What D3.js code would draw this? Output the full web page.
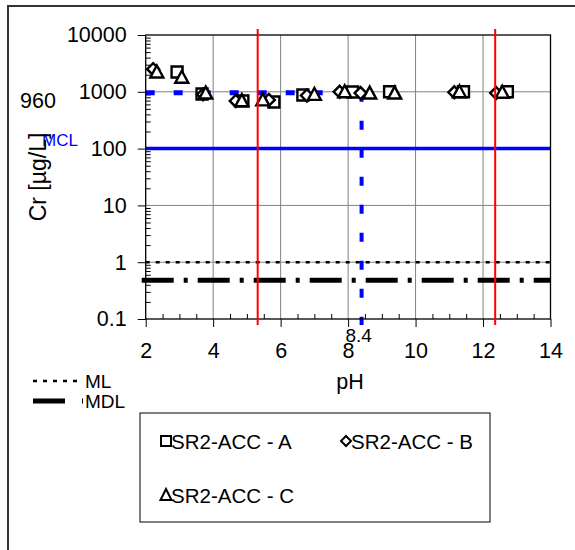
<!DOCTYPE html>
<html><head><meta charset="utf-8">
<script src="https://cdn.jsdelivr.net/npm/d3@7"></script>
<style>body{margin:0;background:#fff}svg{display:block}text{font-family:"Liberation Sans",Arial,sans-serif}</style>
</head><body>
<svg id="c" width="575" height="550"></svg>
<script>
// ---- data ----
const seriesNames = ["SR2-ACC - A", "SR2-ACC - B", "SR2-ACC - C"];
const phA = [2.93, 3.67, 4.88, 5.80, 6.66, 8.13, 9.23, 11.42, 12.72];
const crA = [2230, 915, 690, 660, 880, 990, 1000, 1000, 1000];
const phB = [2.22, 3.70, 4.67, 5.65, 6.78, 7.75, 8.37, 11.15, 12.39];
const crB = [2500, 900, 690, 720, 860, 1000, 950, 980, 950];
const phC = [2.33, 3.07, 3.78, 4.85, 5.47, 7.00, 7.90, 8.64, 9.38, 11.30, 12.57];
const crC = [2230, 1800, 950, 700, 720, 900, 1000, 950, 950, 1000, 980];
const xTicks = [2, 4, 6, 8, 10, 12, 14];
const yTicks = [0.1, 1, 10, 100, 1000, 10000];
const yTickLabels = ["0.1", "1", "10", "100", "1000", "10000"];
const MCL = 100, ML = 1, MDL = 0.48;
const crossVal = 960, crossPH = 8.4;
const redPH = [5.32, 12.36];

// ---- scales ----
const L = 145.7, R = 550.5, T = 35, B = 319;
const x = d3.scaleLinear().domain([2, 14]).range([L, R]);
const y = d3.scaleLog().domain([0.1, 10000]).range([B, T]);
const svg = d3.select("#c");
const FS = 21.5;

// frame
svg.append("path").attr("d", "M8,550V6H575").attr("fill", "none").attr("stroke", "#333").attr("stroke-width", 2);

// grid
const g = svg.append("g");
g.selectAll(".gx").data(xTicks.slice(1, -1)).join("line")
  .attr("x1", d => x(d)).attr("x2", d => x(d)).attr("y1", T).attr("y2", B)
  .attr("stroke", "#808080").attr("stroke-width", 1);
g.selectAll(".gy").data(yTicks.slice(1, -1)).join("line")
  .attr("x1", L).attr("x2", R).attr("y1", d => y(d)).attr("y2", d => y(d))
  .attr("stroke", "#808080").attr("stroke-width", 1);

// minor ticks
const yMinor = [];
for (let e = -1; e < 4; e++) for (let k = 2; k <= 9; k++) yMinor.push(k * Math.pow(10, e));
svg.append("g").attr("transform", `translate(${L},0)`)
  .call(d3.axisRight(y).tickValues(yMinor).tickSize(5).tickFormat(""))
  .call(a => a.select(".domain").remove())
  .call(a => a.selectAll("line").attr("stroke", "#000"));
const xMinor = d3.range(2.5, 14, 0.5).filter(v => v % 2 !== 0);
svg.append("g").attr("transform", `translate(0,${B})`)
  .call(d3.axisTop(x).tickValues(xMinor).tickSize(5).tickFormat(""))
  .call(a => a.select(".domain").remove())
  .call(a => a.selectAll("line").attr("stroke", "#000"));

// reference lines
svg.append("line").attr("x1", L).attr("x2", R).attr("y1", y(MCL)).attr("y2", y(MCL))
  .attr("stroke", "#0000ff").attr("stroke-width", 3.5);
svg.append("line").attr("x1", L).attr("x2", R).attr("y1", y(ML)).attr("y2", y(ML))
  .attr("stroke", "#000").attr("stroke-width", 2.5).attr("stroke-dasharray", "4,6");
svg.append("line").attr("x1", L - 4).attr("x2", R).attr("y1", y(MDL)).attr("y2", y(MDL))
  .attr("stroke", "#000").attr("stroke-width", 5).attr("stroke-dasharray", "32,10,4,10");
svg.append("line").attr("x1", L).attr("x2", x(crossPH)).attr("y1", y(crossVal)).attr("y2", y(crossVal))
  .attr("stroke", "#0000ff").attr("stroke-width", 5).attr("stroke-dasharray", "9,19");
svg.append("line").attr("x1", x(crossPH)).attr("x2", x(crossPH)).attr("y1", y(crossVal)).attr("y2", B + 6)
  .attr("stroke", "#0000ff").attr("stroke-width", 4).attr("stroke-dasharray", "9,19");

// plot border
svg.append("rect").attr("x", L).attr("y", T).attr("width", R - L).attr("height", B - T)
  .attr("fill", "none").attr("stroke", "#000").attr("stroke-width", 1.3);

// axes
svg.append("g").attr("transform", `translate(${L},0)`)
  .call(d3.axisLeft(y).tickValues(yTicks).tickSize(8).tickPadding(11).tickFormat((d, i) => yTickLabels[i]))
  .call(a => a.select(".domain").remove())
  .call(a => a.selectAll("text").attr("font-size", FS).attr("font-family", "Liberation Sans, Arial, sans-serif").attr("fill", "#000"))
  .call(a => a.selectAll("line").attr("stroke", "#000"));
svg.append("g").attr("transform", `translate(0,${B})`)
  .call(d3.axisBottom(x).tickValues(xTicks).tickSize(8).tickPadding(16).tickFormat(d3.format("d")))
  .call(a => a.select(".domain").remove())
  .call(a => a.selectAll("text").attr("font-size", FS).attr("font-family", "Liberation Sans, Arial, sans-serif").attr("fill", "#000"))
  .call(a => a.selectAll("line").attr("stroke", "#000"));

// markers
const shapes = {
  square: "M-5.5,-5.5H5.5V5.5H-5.5Z",
  diamond: "M0,-6L6,0L0,6L-6,0Z",
  triangle: "M0,-6.5L6.5,5.5H-6.5Z"
};
function drawSeries(phs, vals, shape) {
  svg.append("g").selectAll("path").data(phs).join("path")
    .attr("d", shapes[shape])
    .attr("transform", (d, i) => `translate(${x(d)},${y(vals[i])})`)
    .attr("fill", "#fff").attr("stroke", "#000").attr("stroke-width", 2.4);
}
drawSeries(phA, crA, "square");
drawSeries(phB, crB, "diamond");
drawSeries(phC, crC, "triangle");

// red vertical lines
svg.selectAll(".red").data(redPH).join("line")
  .attr("x1", d => x(d)).attr("x2", d => x(d)).attr("y1", T - 6).attr("y2", B + 6)
  .attr("stroke", "#ff0000").attr("stroke-width", 2);

// annotations
svg.append("text").attr("x", 20).attr("y", 108).attr("font-size", FS).text(String(crossVal));
svg.append("text").attr("x", 42).attr("y", 146).attr("font-size", 17).attr("fill", "#0000ff").text("MCL");
svg.append("text").attr("x", x(crossPH) - 3).attr("y", 342).attr("font-size", 19).attr("text-anchor", "middle").text(String(crossPH));

// axis titles
svg.append("text").attr("transform", "translate(46,177) rotate(-90)").attr("text-anchor", "middle")
  .attr("font-size", 23).text("Cr [µg/L]");
svg.append("text").attr("x", 350).attr("y", 389).attr("text-anchor", "middle").attr("font-size", FS).text("pH");

// left legend (ML / MDL)
svg.append("line").attr("x1", 33).attr("x2", 81).attr("y1", 381).attr("y2", 381)
  .attr("stroke", "#000").attr("stroke-width", 2.5).attr("stroke-dasharray", "4,6");
svg.append("text").attr("x", 85).attr("y", 388).attr("font-size", 19).text("ML");
svg.append("line").attr("x1", 33).attr("x2", 84).attr("y1", 401).attr("y2", 401)
  .attr("stroke", "#000").attr("stroke-width", 5).attr("stroke-dasharray", "32,17,1,10");
svg.append("text").attr("x", 85).attr("y", 408).attr("font-size", 19).text("MDL");

// series legend
svg.append("rect").attr("x", 140).attr("y", 413).attr("width", 350).attr("height", 109)
  .attr("fill", "none").attr("stroke", "#000").attr("stroke-width", 1);
const legItems = [
  {name: seriesNames[0], shape: "square", lx: 166, ly: 441},
  {name: seriesNames[1], shape: "diamond", lx: 346, ly: 441},
  {name: seriesNames[2], shape: "triangle", lx: 166, ly: 495}
];
const lg = svg.append("g").selectAll("g").data(legItems).join("g");
lg.append("path").attr("d", d => d.shape === "diamond" ? "M0,-5L5,0L0,5L-5,0Z" : d.shape === "square" ? "M-5,-5H5V5H-5Z" : "M0,-6L5.5,5H-5.5Z")
  .attr("transform", d => `translate(${d.lx},${d.ly})`)
  .attr("fill", "#fff").attr("stroke", "#000").attr("stroke-width", 2);
lg.append("text").attr("x", d => d.lx + 5).attr("y", d => d.ly + 8).attr("font-size", 20.5).text(d => d.name);
</script>
</body></html>
